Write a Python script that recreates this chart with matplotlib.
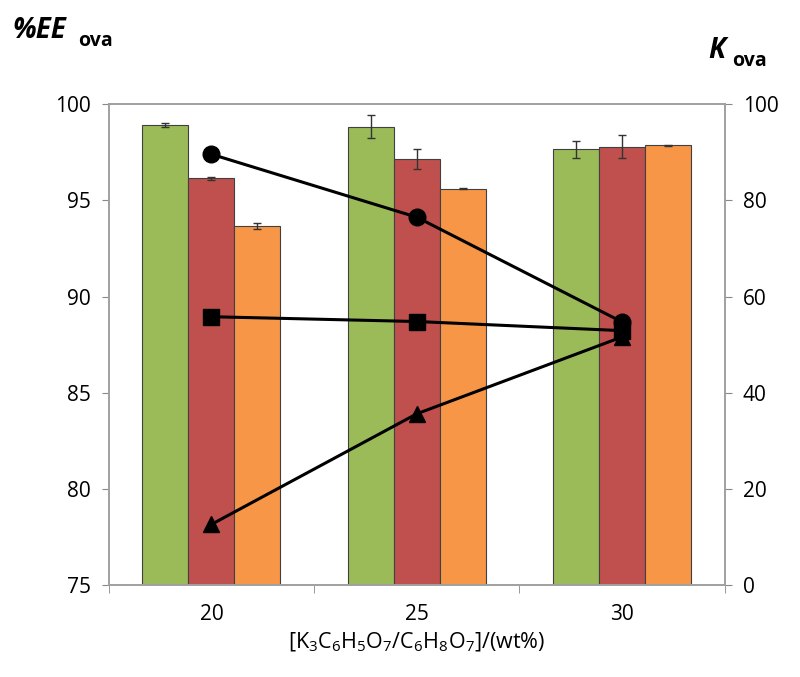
import matplotlib.pyplot as plt
import numpy as np

plt.rcParams["font.family"] = ["Open Sans", "DejaVu Sans"]
plt.rcParams["mathtext.default"] = "regular"

conc = ["20", "25", "30"]

# %EE ova bars (left axis)
ee_green = [98.92, 98.82, 97.65]
ee_green_err = [0.08, 0.6, 0.45]
ee_red = [96.15, 97.15, 97.78]
ee_red_err = [0.07, 0.5, 0.6]
ee_orange = [93.68, 95.6, 97.86]
ee_orange_err = [0.15, 0.02, 0.03]

# K ova lines (right axis)
k_circle = [89.6, 76.5, 54.7]
k_square = [55.8, 54.8, 52.9]
k_triangle = [12.6, 35.6, 51.6]

fig = plt.figure(figsize=(8, 6.77), dpi=100)
ax = fig.add_axes([0.136, 0.136, 0.77, 0.71])

x = np.arange(len(conc))
w = 0.224
edge = "#404040"
err_kw = dict(ecolor="#333333", elinewidth=1, capsize=3, capthick=1)
ax.bar(x - w, ee_green, w, yerr=ee_green_err, color="#9BBB59", edgecolor=edge, linewidth=0.8, error_kw=err_kw, zorder=2)
ax.bar(x, ee_red, w, yerr=ee_red_err, color="#C0504D", edgecolor=edge, linewidth=0.8, error_kw=err_kw, zorder=2)
ax.bar(x + w, ee_orange, w, yerr=ee_orange_err, color="#F79646", edgecolor=edge, linewidth=0.8, error_kw=err_kw, zorder=2)

ax.set_xlim(-0.5, 2.5)
ax.set_ylim(75, 100)
ax.set_yticks([75, 80, 85, 90, 95, 100])
ax.set_xticks(x)
ax.set_xticklabels(conc)
ax.set_xticks([-0.5, 0.5, 1.5, 2.5], minor=True)
ax.tick_params(axis="x", which="major", length=0, labelsize=15, pad=14)
ax.tick_params(axis="x", which="minor", length=6, color="#888888")
ax.tick_params(axis="y", labelsize=15, length=5, color="#888888", pad=8)
ax.set_xlabel("[K$_3$C$_6$H$_5$O$_7$/C$_6$H$_8$O$_7$]/(wt%)", fontsize=15.5, labelpad=4)

ax2 = ax.twinx()
ax2.plot(x, k_circle, "k-o", lw=2.2, ms=12, zorder=3)
ax2.plot(x, k_square, "k-s", lw=2.2, ms=11, zorder=3)
ax2.plot(x, k_triangle, "k-^", lw=2.2, ms=12, zorder=3)
ax2.set_ylim(0, 100)
ax2.set_yticks([0, 20, 40, 60, 80, 100])
ax2.tick_params(axis="y", labelsize=15, length=5, color="#888888", pad=8)

for a in (ax, ax2):
    for s in a.spines.values():
        s.set_color("#A0A0A0")
        s.set_linewidth(1.2)

fig.text(0.015, 0.955, "%EE", fontsize=20, fontweight="bold", fontstyle="italic", va="center")
fig.text(0.098, 0.94, "ova", fontsize=14, fontweight="bold", va="center")
fig.text(0.885, 0.925, "K", fontsize=20, fontweight="bold", fontstyle="italic", va="center")
fig.text(0.915, 0.91, "ova", fontsize=14, fontweight="bold", va="center")

plt.savefig("out.png", dpi=100)
